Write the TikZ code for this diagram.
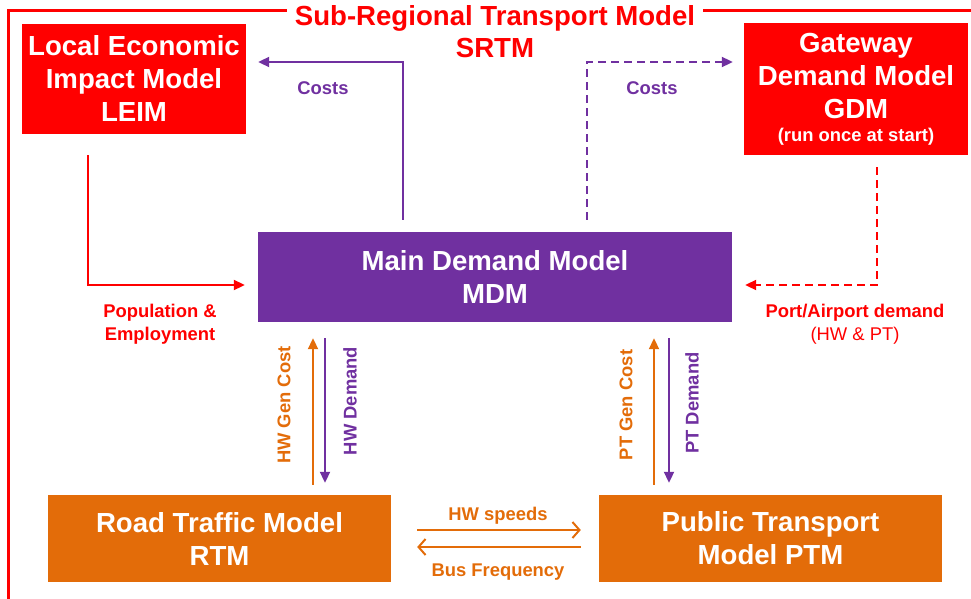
\documentclass[tikz,border=0pt]{standalone}
\usepackage{fontspec}
\setmainfont{Liberation Sans}
\usetikzlibrary{arrows.meta,calc}

\definecolor{srtmred}{RGB}{255,0,0}
\definecolor{srtmpurple}{RGB}{112,48,160}
\definecolor{srtmorange}{RGB}{227,108,9}

\newcommand\bigtext{\fontsize{27.6}{33}\selectfont\bfseries}
\newcommand\smalltext{\fontsize{18.4}{22.5}\selectfont}

\begin{document}
\begin{tikzpicture}[x=1pt, y=-1pt,
    model/.style={inner sep=0pt, align=center, text=white, font=\bigtext},
    lbl/.style={inner sep=0pt, align=center, font=\smalltext\bfseries},
    flow/.style={line width=2pt, -{Triangle[length=11pt, width=10pt]}},
    swap/.style={line width=2pt, srtmorange, -{Straight Barb[length=7pt, width=16pt, line width=2pt]}},
    gap/.style={dash pattern=on 8pt off 5pt}]
    \useasboundingbox (0,0) rectangle (971,599);

    % outer frame and title
    \node (title) [inner xsep=8pt, inner ysep=0pt, align=center, text=srtmred,
      font=\fontsize{27.6}{32}\selectfont\bfseries] at (495,32)
      {Sub-Regional Transport Model\\SRTM};
    \coordinate (topline) at (0,11);
    \draw [srtmred, line width=3pt] (8,605) |- (title.west |- topline);
    \draw [srtmred, line width=3pt] (title.east |- topline) -- (975,11);

    % models
    \node (leim) [model, fill=srtmred, minimum width=224pt, minimum height=110pt]
      at (134,79) {Local Economic\\Impact Model\\LEIM};
    \node (gdm) [model, fill=srtmred, minimum width=224pt, minimum height=132pt]
      at (856,89) {Gateway\\Demand Model\\GDM\\[-10pt]{\smalltext\bfseries (run once at start)}};
    \node (mdm) [model, fill=srtmpurple, minimum width=474pt, minimum height=90pt]
      at (495,277) {Main Demand Model\\MDM};
    \node (rtm) [model, fill=srtmorange, minimum width=343pt, minimum height=87pt]
      at (219.5,538.5) {Road Traffic Model\\RTM};
    \node (ptm) [model, fill=srtmorange, minimum width=343pt, minimum height=87pt]
      at (770.5,538.5) {Public Transport\\Model PTM};

    % costs
    \draw [flow, srtmpurple] ($(mdm.north)+(-92,-12)$) |- ($(leim.east)+(12,-17)$);
    \draw [flow, srtmpurple, gap] ($(mdm.north)+(92,-12)$) |- ($(gdm.west)+(-11,-27)$);
    \node (costl) [lbl, text=srtmpurple] at (323,88) {Costs};
    \node (costr) [lbl, text=srtmpurple] at (652,88) {Costs};

    % inputs to MDM
    \draw [flow, srtmred] ($(leim.south)+(-46,21)$) |- ($(mdm.west)+(-13,8)$);
    \draw [flow, srtmred, gap] ($(gdm.south)+(21,12)$) |- ($(mdm.east)+(13,8)$);
    \node (popemp) [lbl, text=srtmred] at (160,324) {Population \&\\Employment};
    \node (port) [inner sep=0pt, align=center, text=srtmred, font=\smalltext]
      at (855,324) {\bfseries Port/Airport demand\\(HW \& PT)};

    % MDM <-> assignment models
    \draw [flow, srtmorange] ($(rtm.north)+(93.5,-10)$) -- ($(mdm.south)+(-182,16)$);
    \draw [flow, srtmpurple] ($(mdm.south)+(-170,16)$) -- ($(rtm.north)+(105.5,-12)$);
    \draw [flow, srtmorange] ($(ptm.north)+(-116.5,-10)$) -- ($(mdm.south)+(159,16)$);
    \draw [flow, srtmpurple] ($(mdm.south)+(174,16)$) -- ($(ptm.north)+(-101.5,-12)$);
    \node (hwcost) [lbl, text=srtmorange, rotate=90] at (284,405) {HW Gen Cost};
    \node (hwdem) [lbl, text=srtmpurple, rotate=90] at (350,401) {HW Demand};
    \node (ptcost) [lbl, text=srtmorange, rotate=90] at (626,405) {PT Gen Cost};
    \node (ptdem) [lbl, text=srtmpurple, rotate=90] at (692,403) {PT Demand};

    % RTM <-> PTM
    \draw [swap] ($(rtm.east)+(26,-8.5)$) -- ($(ptm.west)+(-18,-8.5)$);
    \draw [swap] ($(ptm.west)+(-18,8.5)$) -- ($(rtm.east)+(26,8.5)$);
    \node (speeds) [lbl, text=srtmorange] at (498,516) {HW speeds};
    \node (busfreq) [lbl, text=srtmorange] at (498,572) {Bus Frequency};
  \end{tikzpicture}
\end{document}
